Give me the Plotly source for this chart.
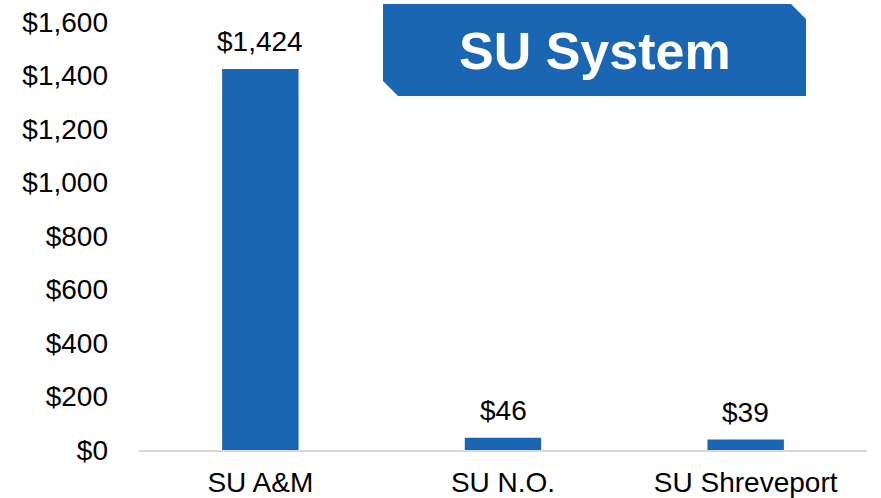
import plotly.graph_objects as go

campuses = ['SU A&M', 'SU N.O.', 'SU Shreveport']
amounts = [1424, 46, 39]
amount_labels = ['$1,424', '$46', '$39']
y_ticks = [0, 200, 400, 600, 800, 1000, 1200, 1400, 1600]
y_tick_labels = ['$0', '$200', '$400', '$600', '$800', '$1,000', '$1,200', '$1,400', '$1,600']

blue = '#1A66B2'
font = 'Liberation Sans, Arial, sans-serif'

fig = go.Figure()
fig.add_trace(go.Bar(
    x=campuses, y=amounts,
    marker=dict(color=blue, line=dict(width=0)),
))

# value labels above the bars
for name, val, lab in zip(campuses, amounts, amount_labels):
    fig.add_annotation(x=name, y=val, text=lab, showarrow=False,
                       yanchor='bottom', yshift=10,
                       font=dict(size=28, color='black', family=font))

# title box with clipped corners (paper coords, plot area 139..867 x, 22..450 y)
def px(x):
    return (x - 139) / 728

def py(y):
    return (450 - y) / 428

x0, x1, y0, y1, c = 383, 806, 4, 96, 15
path = 'M {} {} L {} {} L {} {} L {} {} L {} {} L {} {} Z'.format(
    px(x0), py(y0),
    px(x1 - c), py(y0),
    px(x1), py(y0 + c),
    px(x1), py(y1),
    px(x0 + c), py(y1),
    px(x0), py(y1 - c),
)
fig.add_shape(type='path', path=path, xref='paper', yref='paper',
              fillcolor=blue, line=dict(width=0), layer='above')
fig.add_annotation(text='<b>SU System</b>', xref='paper', yref='paper',
                   x=px(595), y=py(51), xanchor='center', yanchor='middle',
                   showarrow=False,
                   font=dict(size=52, color='white', family=font))

fig.update_layout(
    width=881, height=498,
    margin=dict(l=139, r=14, t=22, b=48),
    paper_bgcolor='white', plot_bgcolor='white',
    showlegend=False, bargap=0.685,
    font=dict(family=font, size=28, color='black'),
)
fig.update_xaxes(showline=True, linecolor='#D9D9D9', linewidth=2,
                 ticks='', ticklabelstandoff=6, automargin=False,
                 tickfont=dict(size=28, color='black'))
fig.update_yaxes(range=[0, 1600], tickvals=y_ticks, ticktext=y_tick_labels,
                 showgrid=False, zeroline=False, showline=False,
                 ticklabelstandoff=30, automargin=False,
                 tickfont=dict(size=28, color='black'))

fig.write_html('out.html', config={'displayModeBar': False},
               post_script="document.body.style.margin='0';")
